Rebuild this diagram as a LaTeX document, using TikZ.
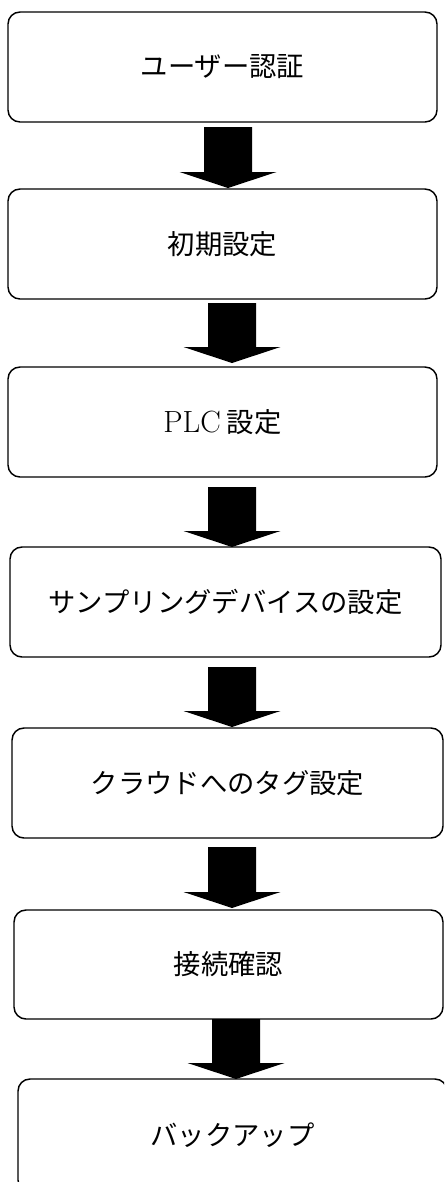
\documentclass[tikz,border=0pt]{standalone}
\usepackage{fontspec}
\newfontfamily\cjk{Noto Sans CJK JP}
\usetikzlibrary{calc}
\tikzset{
  stepbox/.style={draw=black, line width=1.1pt, rounded corners=9pt, fill=white,
    inner sep=0pt, outer sep=0pt, font=\fontsize{20.5}{24}\selectfont\cjk},
  arrowfill/.style={fill=black}
}
\newcommand\stepnode[6]{%
  \node[stepbox, minimum width={(#4-#2)*0.75pt}, minimum height={(#5-#3)*0.75pt}]
    (#1) at ({(#2+#4)/2},{(#3+#5)/2}) {#6};}
\newcommand\blockarrow[2]{%
  \fill[arrowfill] ($(#1)+(-24,0)$) -- ($(#1)+(24,0)$) -- ($(#2)+(24,-16)$)
    -- ($(#2)+(48.5,-16)$) -- (#2) -- ($(#2)+(-48.5,-16)$) -- ($(#2)+(-24,-16)$) -- cycle;}
\begin{document}
\begin{tikzpicture}[x=0.75pt, y=-0.75pt]
\useasboundingbox (0,0) rectangle (444,1182);
\clip (0,0) rectangle (444,1182);
\fill[white] (0,0) rectangle (444,1182);
\stepnode{b1}{8}{12}{437}{122}{\raisebox{-4pt}{ユーザー認証}}
\stepnode{b2}{8}{189}{437}{299}{\raisebox{-1pt}{初期設定}}
\stepnode{b3}{8}{367}{437}{477}{\raisebox{-2pt}{{\rmfamily\fontsize{23}{26}\selectfont PLC} 設定}}
\stepnode{b4}{10}{547}{441}{657}{\raisebox{-2pt}{サンプリングデバイスの設定}}
\stepnode{b5}{12}{728}{443}{838}{\raisebox{-6pt}{クラウドへのタグ設定}}
\stepnode{b6}{14}{910}{443}{1019}{\raisebox{-2pt}{接続確認}}
\stepnode{b7}{18}{1079}{447}{1192}{\raisebox{-2pt}{バックアップ}}
\coordinate (a1s) at (228,127);  \coordinate (a1t) at (228,188);
\coordinate (a2s) at (232,303);  \coordinate (a2t) at (232,363);
\coordinate (a3s) at (232,487);  \coordinate (a3t) at (232,547);
\coordinate (a4s) at (232,667);  \coordinate (a4t) at (232,727);
\coordinate (a5s) at (232,847);  \coordinate (a5t) at (232,908);
\coordinate (a6s) at (236,1019); \coordinate (a6t) at (236,1079);
\blockarrow{a1s}{a1t}
\blockarrow{a2s}{a2t}
\blockarrow{a3s}{a3t}
\blockarrow{a4s}{a4t}
\blockarrow{a5s}{a5t}
\blockarrow{a6s}{a6t}
\end{tikzpicture}
\end{document}
